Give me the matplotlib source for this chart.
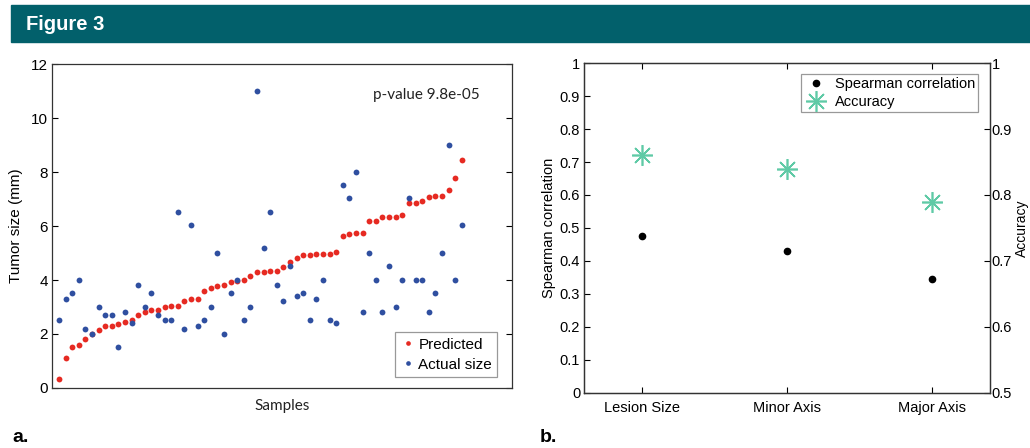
import numpy as np
import matplotlib
matplotlib.use('Agg')
import matplotlib.pyplot as plt
from matplotlib.patches import Rectangle

# panel a: tumor size per sample
predicted = [0.35, 1.1, 1.5, 1.6, 1.8, 2.0, 2.16, 2.3, 2.3, 2.37, 2.43, 2.53, 2.7, 2.82,
             2.88, 2.88, 3.0, 3.04, 3.04, 3.23, 3.28, 3.28, 3.6, 3.72, 3.76, 3.8, 3.92,
             3.98, 4.0, 4.16, 4.3, 4.3, 4.33, 4.35, 4.5, 4.66, 4.83, 4.91, 4.94, 4.98,
             4.98, 4.98, 5.05, 5.62, 5.72, 5.74, 5.74, 6.17, 6.2, 6.32, 6.32, 6.32, 6.39,
             6.84, 6.84, 6.91, 7.08, 7.11, 7.12, 7.33, 7.79, 8.44]
actual = [2.5, 3.3, 3.5, 4.0, 2.2, 2.0, 3.0, 2.72, 2.72, 1.51, 2.82, 2.41, 3.82, 3.0,
          3.52, 2.72, 2.52, 2.52, 6.53, 2.2, 6.02, 2.3, 2.52, 3.0, 5.01, 2.0, 3.52, 4.0,
          2.52, 3.0, 11.0, 5.2, 6.53, 3.82, 3.21, 4.52, 3.41, 3.52, 2.52, 3.31, 4.0,
          2.52, 2.42, 7.53, 7.02, 8.01, 2.82, 5.01, 4.0, 2.82, 4.52, 3.01, 4.0, 7.02,
          4.0, 4.0, 2.82, 3.52, 5.01, 9.02, 4.0, 6.02]
samples = np.arange(1, len(predicted) + 1)

# panel b: feature performance
features = ['Lesion Size', 'Minor Axis', 'Major Axis']
spearman = [0.475, 0.43, 0.345]
accuracy = [0.86, 0.84, 0.79]

RED = '#e62a22'
BLUE = '#2f4fa0'
TEAL = '#5fcaa6'
BAND = '#02606b'

plt.rcParams['font.family'] = ['Liberation Sans', 'DejaVu Sans']
plt.rcParams['axes.linewidth'] = 0.9
plt.rcParams['axes.edgecolor'] = '#333333'

fig = plt.figure(figsize=(10.30, 4.48), dpi=100)

# header band
fig.patches.append(Rectangle((11 / 1030, 1 - 42 / 448), 1, 37 / 448,
                             transform=fig.transFigure, color=BAND, zorder=0))
fig.text(26 / 1030, 1 - 24 / 448, 'Figure 3', color='white', fontsize=14.5,
         fontweight='bold', va='center', ha='left')

# ---- panel a
ax1 = fig.add_axes([0.0508, 0.134, 0.4462, 0.723])
ax1.plot(samples, predicted, 'o', color=RED, markersize=4.2, markeredgewidth=0,
         label='Predicted')
ax1.plot(samples, actual, 'o', color=BLUE, markersize=4.2, markeredgewidth=0,
         label='Actual size')
ax1.set_xlim(0, 69.6)
ax1.set_ylim(0, 12)
ax1.set_yticks(range(0, 13, 2))
ax1.set_xticks([])
ax1.tick_params(axis='y', direction='in', right=True, length=4, labelsize=11, pad=3)
ax1.set_ylabel('Tumor size (mm)', fontsize=11, labelpad=6)
ax1.set_xlabel('Samples', fontsize=11, family=['Lato', 'DejaVu Sans'], color='#222222',
               labelpad=8)
ax1.text(0.93, 0.905, 'p-value 9.8e-05', transform=ax1.transAxes, ha='right',
         va='center', fontsize=11, family=['Lato', 'DejaVu Sans'], color='#222222')
leg1 = ax1.legend(loc='lower right', fontsize=11, markerscale=0.8, handletextpad=0.2,
                  handlelength=1.0, borderpad=0.35, labelspacing=0.4, fancybox=False,
                  framealpha=1, edgecolor='#999999', bbox_to_anchor=(0.985, 0.01))
leg1.get_frame().set_linewidth(0.9)

# ---- panel b
ax2 = fig.add_axes([0.5673, 0.1234, 0.3942, 0.7356])
ax2.plot(range(1, 4), spearman, 'o', color='black', markersize=4.5,
         label='Spearman correlation')
ax2.set_xlim(0.6, 3.4)
ax2.set_ylim(0, 1)
ax2.set_yticks(np.arange(0, 1.01, 0.1))
ax2.set_yticklabels(['0', '0.1', '0.2', '0.3', '0.4', '0.5', '0.6', '0.7', '0.8',
                     '0.9', '1'])
ax2.set_xticks(range(1, 4))
ax2.set_xticklabels(features)
ax2.tick_params(direction='in', top=True, length=4, labelsize=10.5, pad=3)
ax2.tick_params(axis='x', pad=6)
ax2.set_ylabel('Spearman correlation', fontsize=10.5, labelpad=3)

ax3 = ax2.twinx()
ax3.plot(range(1, 4), accuracy, linestyle='none', marker=(8, 2, 0), color=TEAL,
         markersize=15, markeredgewidth=1.2, label='Accuracy')
ax3.set_ylim(0.5, 1)
ax3.set_yticks(np.arange(0.5, 1.01, 0.1))
ax3.set_yticklabels(['0.5', '0.6', '0.7', '0.8', '0.9', '1'])
ax3.tick_params(direction='in', length=4, labelsize=10.5, pad=1)
ax3.set_ylabel('Accuracy', fontsize=10, labelpad=2)

h1, l1 = ax2.get_legend_handles_labels()
h2, l2 = ax3.get_legend_handles_labels()
leg2 = ax3.legend(h1 + h2, l1 + l2, loc='upper right', fontsize=10.5,
                  bbox_to_anchor=(0.988, 0.988), handlelength=1.6, handletextpad=0.5,
                  borderpad=0.2, labelspacing=0.25, fancybox=False, framealpha=1,
                  edgecolor='#999999')
leg2.get_frame().set_linewidth(0.9)

# panel letters
fig.text(12 / 1030, 1 - 437 / 448, 'a.', fontsize=14, fontweight='bold', va='center')
fig.text(540 / 1030, 1 - 437 / 448, 'b.', fontsize=14, fontweight='bold', va='center')

fig.savefig('out.png', dpi=100)
